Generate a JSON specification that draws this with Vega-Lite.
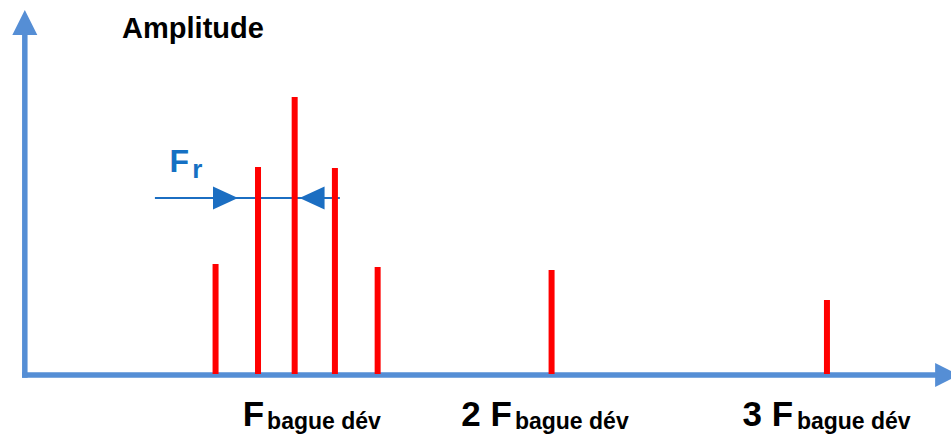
{
  "$schema": "https://vega.github.io/schema/vega-lite/v6.json",
  "width": 951,
  "height": 439,
  "autosize": {"type": "none"},
  "padding": 0,
  "background": "white",
  "view": {"stroke": null},
  "datasets": {
    "bars": [
      {"f": 78.2, "amp": 1.11},
      {"f": 93.6, "amp": 2.08},
      {"f": 106.9, "amp": 2.78},
      {"f": 121.5, "amp": 2.07},
      {"f": 137.0, "amp": 1.08},
      {"f": 200.1, "amp": 1.05},
      {"f": 300.0, "amp": 0.75}
    ],
    "axes": [
      {"f": 9, "a": 0, "f2": 340, "a2": 0},
      {"f": 9, "a": 0, "f2": 9, "a2": 3.45}
    ],
    "frline": [{"f": 56.2, "f2": 123.3, "a": 1.77}],
    "labels": [
      {"main": "F", "fm": 95.8, "sub": "bague dév", "fs": 96.9},
      {"main": "2 F", "fm": 185.7, "sub": "bague dév", "fs": 186.8},
      {"main": "3 F", "fm": 287.7, "sub": "bague dév", "fs": 289.1}
    ]
  },
  "encoding": {},
  "layer": [
    {
      "data": {"name": "frline"},
      "mark": {"type": "rule", "color": "#1B6EC2", "strokeWidth": 2},
      "encoding": {
        "x": {"field": "f", "type": "quantitative", "scale": {"domain": [0, 345], "nice": false, "zero": false}, "axis": null},
        "x2": {"field": "f2"},
        "y": {"field": "a", "type": "quantitative", "scale": {"domain": [-0.64, 3.75], "nice": false, "zero": false}, "axis": null}
      }
    },
    {
      "data": {"values": [{"f": 81.8, "a": 1.77}]},
      "mark": {"type": "point", "shape": "M-1,-0.92L1,0L-1,0.92Z", "filled": true, "size": 625, "color": "#1B6EC2", "opacity": 1, "strokeWidth": 0},
      "encoding": {
        "x": {"field": "f", "type": "quantitative"},
        "y": {"field": "a", "type": "quantitative"}
      }
    },
    {
      "data": {"values": [{"f": 113.2, "a": 1.77}]},
      "mark": {"type": "point", "shape": "M1,-0.92L-1,0L1,0.92Z", "filled": true, "size": 625, "color": "#1B6EC2", "opacity": 1, "strokeWidth": 0},
      "encoding": {
        "x": {"field": "f", "type": "quantitative"},
        "y": {"field": "a", "type": "quantitative"}
      }
    },
    {
      "data": {"name": "axes"},
      "mark": {"type": "rule", "color": "#558ED5", "strokeWidth": 5.5, "strokeCap": "square"},
      "encoding": {
        "x": {"field": "f", "type": "quantitative"},
        "x2": {"field": "f2"},
        "y": {"field": "a", "type": "quantitative"},
        "y2": {"field": "a2"}
      }
    },
    {
      "data": {"name": "bars"},
      "mark": {"type": "rule", "color": "#FF0000", "strokeWidth": 6, "strokeCap": "butt"},
      "encoding": {
        "x": {"field": "f", "type": "quantitative"},
        "y": {"field": "amp", "type": "quantitative"},
        "y2": {"datum": 0.01}
      }
    },
    {
      "data": {"values": [{"f": 9, "a": 3.525}]},
      "mark": {"type": "point", "shape": "M-1,1L1,1L0,-1Z", "filled": true, "size": 625, "color": "#558ED5", "opacity": 1, "strokeWidth": 0},
      "encoding": {
        "x": {"field": "f", "type": "quantitative"},
        "y": {"field": "a", "type": "quantitative"}
      }
    },
    {
      "data": {"values": [{"f": 343.6, "a": 0}]},
      "mark": {"type": "point", "shape": "M-1,-1L1,0L-1,1Z", "filled": true, "size": 576, "color": "#558ED5", "opacity": 1, "strokeWidth": 0},
      "encoding": {
        "x": {"field": "f", "type": "quantitative"},
        "y": {"field": "a", "type": "quantitative"}
      }
    },
    {
      "data": {"values": [{"t": "Amplitude", "f": 44.3, "a": 3.37}]},
      "mark": {"type": "text", "font": "Liberation Sans", "fontWeight": "bold", "fontSize": 29, "align": "left", "baseline": "alphabetic", "color": "#000000"},
      "encoding": {
        "x": {"field": "f", "type": "quantitative"},
        "y": {"field": "a", "type": "quantitative"},
        "text": {"field": "t"}
      }
    },
    {
      "data": {"values": [{"t": "F", "f": 68.6, "a": 2.03}]},
      "mark": {"type": "text", "font": "Liberation Sans", "fontWeight": "bold", "fontSize": 32, "align": "right", "baseline": "alphabetic", "color": "#1570C3"},
      "encoding": {
        "x": {"field": "f", "type": "quantitative"},
        "y": {"field": "a", "type": "quantitative"},
        "text": {"field": "t"}
      }
    },
    {
      "data": {"values": [{"t": "r", "f": 69.7, "a": 1.97}]},
      "mark": {"type": "text", "font": "Liberation Sans", "fontWeight": "bold", "fontSize": 26, "align": "left", "baseline": "alphabetic", "color": "#1570C3"},
      "encoding": {
        "x": {"field": "f", "type": "quantitative"},
        "y": {"field": "a", "type": "quantitative"},
        "text": {"field": "t"}
      }
    },
    {
      "data": {"name": "labels"},
      "mark": {"type": "text", "font": "Liberation Sans", "fontWeight": "bold", "fontSize": 35, "align": "right", "baseline": "alphabetic", "color": "#000000"},
      "encoding": {
        "x": {"field": "fm", "type": "quantitative"},
        "y": {"datum": -0.51, "type": "quantitative"},
        "text": {"field": "main"}
      }
    },
    {
      "data": {"name": "labels"},
      "mark": {"type": "text", "font": "Liberation Sans", "fontWeight": "bold", "fontSize": 23, "align": "left", "baseline": "alphabetic", "color": "#000000"},
      "encoding": {
        "x": {"field": "fs", "type": "quantitative"},
        "y": {"datum": -0.54, "type": "quantitative"},
        "text": {"field": "sub"}
      }
    }
  ]
}
